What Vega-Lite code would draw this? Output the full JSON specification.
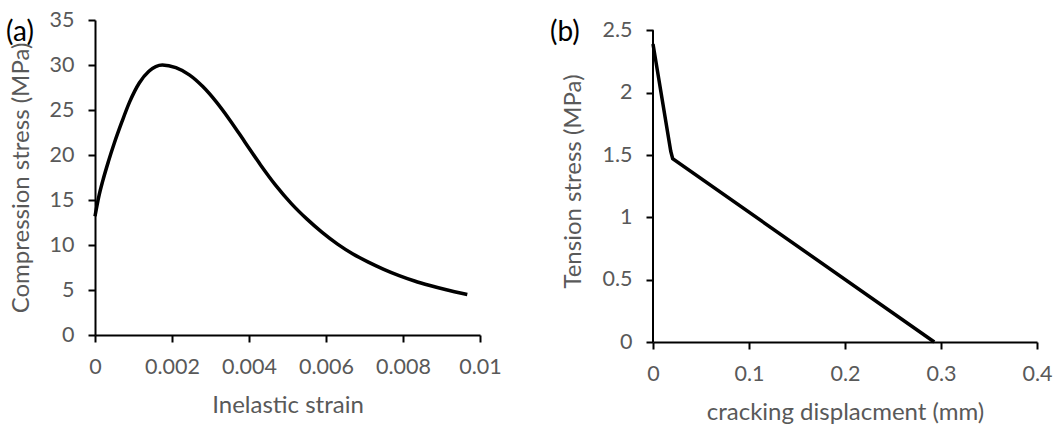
{
  "$schema": "https://vega.github.io/schema/vega-lite/v6.json",
  "padding": {"left": 6, "top": 9, "right": 5, "bottom": 5},
  "background": "white",
  "config": {
    "font": "Lato",
    "view": {"stroke": null},
    "axis": {
      "grid": false,
      "labelFlush": false,
      "domainColor": "#000000",
      "domainWidth": 2,
      "tickColor": "#000000",
      "tickWidth": 2,
      "tickSize": 7,
      "labelColor": "#595959",
      "labelFontSize": 21.5,
      "labelFont": "Lato",
      "labelPadding": 14,
      "titleColor": "#595959",
      "titleFontSize": 24,
      "titleFont": "Lato",
      "titleFontWeight": "normal",
      "titlePadding": 16
    },
    "title": {"font": "Lato", "fontSize": 28, "fontWeight": "normal", "color": "#000000"},
    "concat": {"spacing": 47}
  },
  "datasets": {
    "compression": [
      {"strain": 0, "stress": 13.2},
      {"strain": 0.0001, "stress": 15.4},
      {"strain": 0.0002, "stress": 17.1},
      {"strain": 0.00035, "stress": 19.3},
      {"strain": 0.0005, "stress": 21.3},
      {"strain": 0.0007, "stress": 23.7},
      {"strain": 0.0009, "stress": 25.9},
      {"strain": 0.00115, "stress": 28.0},
      {"strain": 0.0014, "stress": 29.3},
      {"strain": 0.00175, "stress": 30.0},
      {"strain": 0.0021, "stress": 29.7},
      {"strain": 0.00245, "stress": 28.9},
      {"strain": 0.0028, "stress": 27.6},
      {"strain": 0.00315, "stress": 25.9},
      {"strain": 0.0035, "stress": 23.9},
      {"strain": 0.0039, "stress": 21.4},
      {"strain": 0.0043, "stress": 18.9},
      {"strain": 0.0047, "stress": 16.6},
      {"strain": 0.0051, "stress": 14.6},
      {"strain": 0.0055, "stress": 12.9},
      {"strain": 0.0059, "stress": 11.4},
      {"strain": 0.0063, "stress": 10.1},
      {"strain": 0.0067, "stress": 9.0},
      {"strain": 0.0071, "stress": 8.1},
      {"strain": 0.0075, "stress": 7.3},
      {"strain": 0.0079, "stress": 6.6},
      {"strain": 0.0083, "stress": 6.0},
      {"strain": 0.0087, "stress": 5.5},
      {"strain": 0.0091, "stress": 5.05},
      {"strain": 0.00967, "stress": 4.5}
    ],
    "tension": [
      {"disp": 0, "stress": 2.39},
      {"disp": 0.0185, "stress": 1.53},
      {"disp": 0.0205, "stress": 1.47},
      {"disp": 0.293, "stress": 0}
    ],
    "axisline": [
      {"disp": 0, "low": 0, "high": 2.5}
    ]
  },
  "hconcat": [
    {
      "width": 385,
      "height": 315,
      "title": {"text": "(a)", "anchor": "start", "frame": "bounds", "dx": -3, "dy": 42},
      "data": {"name": "compression"},
      "mark": {"type": "line", "color": "#000000", "strokeWidth": 3.5, "interpolate": "monotone"},
      "encoding": {
        "x": {
          "field": "strain", "type": "quantitative",
          "scale": {"domain": [0, 0.01], "nice": false, "zero": false},
          "axis": {"title": "Inelastic strain", "values": [0, 0.002, 0.004, 0.006, 0.008, 0.01], "format": "~g"}
        },
        "y": {
          "field": "stress", "type": "quantitative",
          "scale": {"domain": [0, 35], "nice": false},
          "axis": {"title": "Compression stress (MPa)", "values": [0, 5, 10, 15, 20, 25, 30, 35], "format": "~g"}
        }
      }
    },
    {
      "width": 384,
      "height": 322,
      "title": {"text": "(b)", "anchor": "start", "frame": "bounds", "dx": -12, "dy": 32},
      "layer": [
        {
          "data": {"name": "axisline"},
          "mark": {"type": "rule", "color": "#000000", "strokeWidth": 2},
          "encoding": {
            "x": {"field": "disp", "type": "quantitative"},
            "y": {"field": "low", "type": "quantitative"},
            "y2": {"field": "high"}
          }
        },
        {
          "data": {"name": "tension"},
          "mark": {"type": "line", "color": "#000000", "strokeWidth": 3.5},
          "encoding": {
            "x": {
              "field": "disp", "type": "quantitative",
              "scale": {"domain": [0, 0.4], "nice": false, "zero": false},
              "axis": {"title": "cracking displacment (mm)", "values": [0, 0.1, 0.2, 0.3, 0.4], "format": "~g"}
            },
            "y": {
              "field": "stress", "type": "quantitative",
              "scale": {"domain": [0, 2.583], "nice": false},
              "axis": {"title": "Tension stress (MPa)", "values": [0, 0.5, 1, 1.5, 2, 2.5], "format": "~g", "domain": false}
            }
          }
        }
      ]
    }
  ]
}
